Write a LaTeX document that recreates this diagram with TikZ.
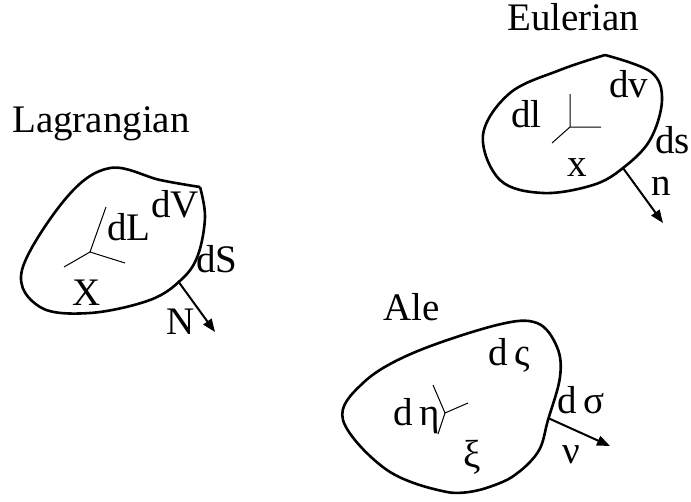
\documentclass[tikz,border=0pt]{standalone}
\usepackage{fontspec}
\setmainfont{Liberation Serif}
\usetikzlibrary{arrows.meta}
\begin{document}
\begin{tikzpicture}[x=1pt,y=-1pt,
  outline/.style={line width=2.6pt,line join=round},
  axis/.style={line width=1pt},
  normal/.style={line width=2pt,-{Triangle[length=13pt,width=10pt]}},
  lbl/.style={anchor=base west,inner sep=0pt,font=\fontsize{39}{39}\selectfont}]
\useasboundingbox (0,0) rectangle (691,501);
% ---------- Lagrangian ----------
\node[lbl] (tL) at (12,132) {Lagrangian};
\draw[outline] plot[smooth,tension=0.6] coordinates {(200,187) (160,180) (110,168) (67,197) (22,270) (40,307) (90,313) (150,300) (182,279) (198,255) (205,217) (200,187)};
\coordinate (oL) at (90,252);
\coordinate (aL1) at (106,207);
\coordinate (aL2) at (125,263);
\coordinate (aL3) at (64,267);
\draw[axis] (oL) -- (aL1) (oL) -- (aL2) (oL) -- (aL3);
\coordinate (sL) at (178,281);
\coordinate (eL) at (215,332);
\draw[normal] (sL) -- (eL);
\node[lbl] (dL) at (107,240) {dL};
\node[lbl] (dV) at (151,217) {dV};
\node[lbl] (dS) at (196,272) {dS};
\node[lbl] (X) at (72,305) {X};
\node[lbl] (N) at (166,334) {N};
% ---------- Eulerian ----------
\node[lbl,text height=27pt] (tE) at (507,30.5) {Eulerian};
\draw[outline] plot[smooth,tension=0.6] coordinates {(605,55) (560,70) (510,93) (483,135) (500,180) (543,193) (593,185) (623,168) (650,140) (662,100) (651,72) (605,55)};
\coordinate (oE) at (570,127);
\coordinate (aE1) at (570,94);
\coordinate (aE2) at (601,127);
\coordinate (aE3) at (552,143);
\draw[axis] (oE) -- (aE1) (oE) -- (aE2) (oE) -- (aE3);
\coordinate (sE) at (623,168);
\coordinate (eE) at (663,223);
\draw[normal] (sE) -- (eE);
\node[lbl] (dl) at (511,127) {dl};
\node[lbl] (dv) at (609,97) {dv};
\node[lbl] (ds) at (655,153) {ds};
\node[lbl] (x) at (567,176) {x};
\node[lbl] (n) at (651,195) {n};
% ---------- ALE ----------
\node[lbl] (tA) at (383,320) {Ale};
\draw[outline] plot[smooth,tension=0.6] coordinates {(483,489) (447,492) (387,470) (343,420) (363,383) (413,353) (497,325) (537,323) (557,347) (560,377) (548,420) (538,452) (512,477) (483,489)};
\coordinate (oA) at (445,413);
\coordinate (aA1) at (433,385);
\coordinate (aA2) at (468,403);
\coordinate (aA3) at (438,434);
\draw[axis] (oA) -- (aA1) (oA) -- (aA2) (oA) -- (aA3);
\coordinate (sA) at (548,418);
\coordinate (eA) at (610,446);
\draw[normal] (sA) -- (eA);
\node[lbl] (dzeta) at (488,365) {d\,ς};
\node[lbl] (deta) at (393,425) {d\,η};
\node[lbl] (dsigma) at (557,413) {d\,σ};
\node[lbl] (nu) at (562,463) {ν};
\node[lbl] (xi) at (463,467) {ξ};
\end{tikzpicture}
\end{document}
